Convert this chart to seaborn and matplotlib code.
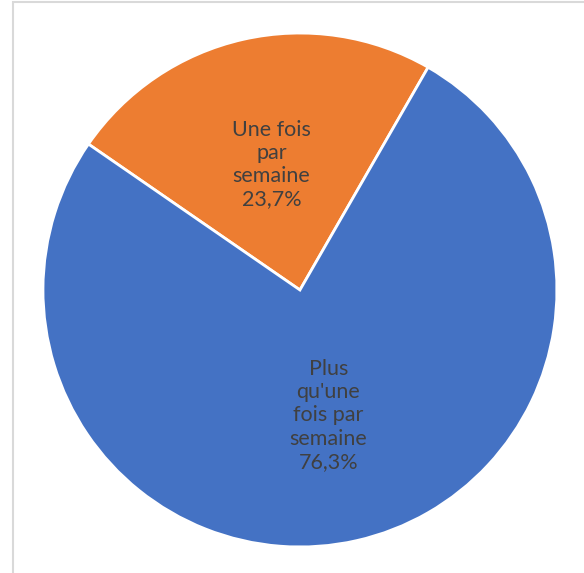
import matplotlib
matplotlib.use("Agg")
from matplotlib import pyplot as plt
from matplotlib.patches import Rectangle
import seaborn as sns

sns.set_theme(style="white")
plt.rcParams["font.family"] = ["Lato", "DejaVu Sans"]

categories = ["Une fois\npar\nsemaine", "Plus\nqu'une\nfois par\nsemaine"]
shares = [23.7, 76.3]
colors = ["#ED7D31", "#4472C4"]

labels = [f"{c}\n{v:.1f}%".replace(".", ",") for c, v in zip(categories, shares)]

fig = plt.figure(figsize=(5.84, 5.73), dpi=100)
ax = fig.add_axes([0.0736, 0.0454, 0.880, 0.897])

wedges, texts = ax.pie(
    shares,
    labels=labels,
    colors=colors,
    startangle=145.4,
    counterclock=False,
    labeldistance=0.5,
    wedgeprops={"edgecolor": "white", "linewidth": 2},
    textprops={"color": "#404040", "fontsize": 15.5, "ha": "center",
               "va": "center"},
)
for t in texts:
    t.set_linespacing(1.2)
ax.set_xlim(-1, 1)
ax.set_ylim(-1, 1)
ax.set_aspect("equal")

# chart frame (only left and top edges fall inside the crop)
fig.patches.append(Rectangle((13 / 584, -0.1), 1.2, (573 - 2) / 573 + 0.1,
                             transform=fig.transFigure, fill=False,
                             edgecolor="#D9D9D9", linewidth=1.5))

fig.savefig("out.png", dpi=100)
